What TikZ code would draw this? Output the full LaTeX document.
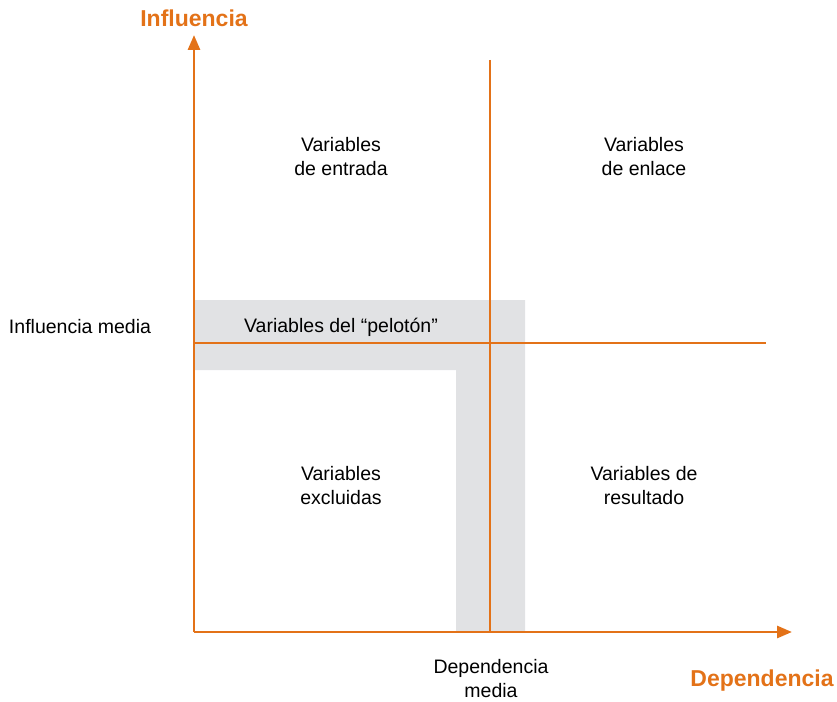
\documentclass[tikz,border=0pt]{standalone}
\usepackage{fontspec}
\setmainfont{Liberation Sans}
\usetikzlibrary{arrows.meta,positioning}
\definecolor{axisorange}{RGB}{227,114,24}
\definecolor{bandgray}{RGB}{225,226,228}

\begin{document}
\begin{tikzpicture}[x=1pt, y=-1pt, line width=2.8pt,
	axis/.style={draw=axisorange, -{Triangle[length=15pt, width=12pt]}},
	mid line/.style={draw=axisorange},
	label node/.style={align=center, font=\fontsize{19.5}{24}\selectfont, inner sep=0pt},
	title node/.style={font=\fontsize{23}{27}\selectfont\bfseries, text=axisorange, inner sep=0pt}]

			\useasboundingbox (0,0) rectangle (837,701);

			% gray band of the "peloton"
			\fill[bandgray] (194,300) -- (525,300) -- (525,632) -- (456,632) -- (456,370) -- (194,370) -- cycle;

			\coordinate (O) at (194,632);
			\coordinate (Ytip) at (194,35);
			\coordinate (Xtip) at (792,632);
			\coordinate (Vtop) at (490,60);
			\coordinate (Vbot) at (490,632);
			\coordinate (Hleft) at (194,343);
			\coordinate (Hright) at (766,343);

			% middle lines
			\draw[mid line] (Vtop) -- (Vbot);
			\draw[mid line] (Hleft) -- (Hright);

			% axes
			\draw[axis] (O) -- (Ytip);
			\draw[axis] (O) -- (Xtip);

			\node[title node] (1) at (194,18) {Influencia};
			\node[title node] (2) at (762,681) {Dependencia};

			\node[label node] (3) at (341,157) {Variables\\de entrada};
			\node[label node] (4) at (644,157) {Variables\\de enlace};
			\node[label node] (5) at (341,327) {Variables del “pelotón”};
			\node[label node] (6) at (80,327) {Influencia media};
			\node[label node] (7) at (341,486) {Variables\\excluidas};
			\node[label node] (8) at (644,486) {Variables de\\resultado};
			\node[label node] (9) at (491,679) {Dependencia\\media};

		\end{tikzpicture}
\end{document}
